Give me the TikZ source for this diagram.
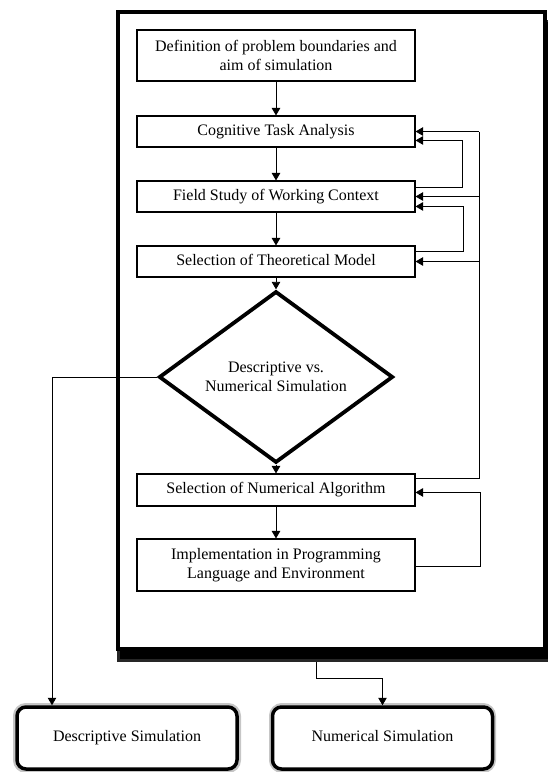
\documentclass[tikz,border=0pt]{standalone}
\usepackage{fontspec}
\setmainfont{Liberation Serif}
\usetikzlibrary{arrows.meta,shapes.geometric,calc}
\begin{document}
\begin{tikzpicture}[x=1pt,y=-1pt,
  every node/.style={font=\fontsize{16}{19}\selectfont, align=center, inner sep=0pt},
  stepbox/.style={draw, line width=1.1pt, minimum width=278pt, fill=white},
  decbox/.style={draw, line width=3.8pt, diamond, minimum width=234pt, minimum height=130pt, fill=white},
  endbox/.style={draw, line width=3.5pt, rounded corners=9pt, minimum width=220pt, minimum height=62pt, fill=white, text height=11pt, text depth=3.5pt},
  arr/.style={line width=0.9pt, -{Triangle[length=7.5pt,width=8.5pt]}},
  ln/.style={line width=0.9pt}]
\useasboundingbox (0,0) rectangle (548,772);
% frame with shadow
\fill[black!85] (117,20) rectangle (548,662);
\fill[black] (120,22) rectangle (548,659);
\draw[line width=4pt, fill=white] (118,12) rectangle (545,649);
% steps
\node[stepbox, minimum height=51pt] (b1) at (276,55.5) {Definition of problem boundaries and\\aim of simulation};
\node[stepbox, minimum height=31pt, text height=11pt, text depth=3.5pt] (b2) at (276,131.5) {Cognitive Task Analysis};
\node[stepbox, minimum height=31pt, text height=11pt, text depth=3.5pt] (b3) at (276,196.5) {Field Study of Working Context};
\node[stepbox, minimum height=31pt, text height=11pt, text depth=3.5pt] (b4) at (276,261.5) {Selection of Theoretical Model};
\node[decbox] (dia) at (276,377) {Descriptive vs.\\Numerical Simulation};
\node[stepbox, minimum height=32pt, text height=11pt, text depth=3.5pt] (b5) at (276,490) {Selection of Numerical Algorithm};
\node[stepbox, minimum height=52pt] (b6) at (276,565) {Implementation in Programming\\Language and Environment};
% end boxes
\draw[line width=8pt, gray!45, rounded corners=9pt] (17,707) rectangle (237,769);
\draw[line width=8pt, gray!45, rounded corners=9pt] (273,707) rectangle (492,769);
\node[endbox] (desc) at (127,738) {Descriptive Simulation};
\node[endbox] (num) at (382.5,738) {Numerical Simulation};
% main flow
\draw[arr] (b1) -- (b2);
\draw[arr] (b2) -- (b3);
\draw[arr] (b3) -- (b4);
\draw[arr] (b4) -- (dia);
\draw[arr] (dia) -- (b5);
\draw[arr] (b5) -- (b6);
% outer feedback loop
\coordinate (xo) at (479,0);
\coordinate (o5) at ($(b5.north east)+(0,5)$);
\draw[ln] (o5) -| (xo |- b2.east);
\draw[arr] (xo |- b2.east) -- (b2.east);
\draw[arr] (xo |- b3.east) -- (b3.east);
\draw[arr] (xo |- b4.east) -- (b4.east);
% inner loops
\coordinate (x1) at (462,0);
\coordinate (s3) at ($(b3.north east)+(0,7)$);
\coordinate (t2) at ($(b2.north east)+(0,25)$);
\draw[arr] (s3) -| (x1 |- t2) -- (t2);
\coordinate (x2) at (463,0);
\coordinate (s4) at ($(b4.north east)+(0,6)$);
\coordinate (t3) at ($(b3.north east)+(0,26)$);
\draw[arr] (s4) -| (x2 |- t3) -- (t3);
\coordinate (x3) at (480,0);
\coordinate (s6) at ($(b6.north east)+(0,28)$);
\coordinate (t5) at ($(b5.north east)+(0,19)$);
\draw[arr] (s6) -| (x3 |- t5) -- (t5);
% exits
\coordinate (dl) at (52,0);
\draw[arr] (dia.west) -- (dia.west -| dl) -- (dl |- desc.north);
\coordinate (fb) at (316,662);
\coordinate (fk) at (316,678);
\draw[arr] (fb) -- (fk) -| (num.north);
\end{tikzpicture}
\end{document}
